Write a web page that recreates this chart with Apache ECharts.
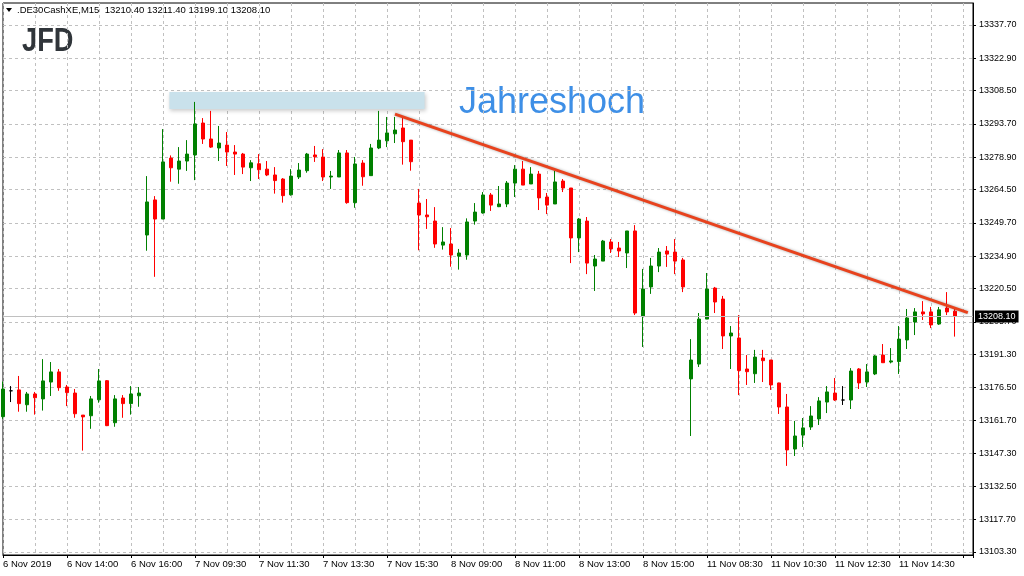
<!DOCTYPE html>
<html><head><meta charset="utf-8">
<script src="https://cdn.jsdelivr.net/npm/echarts@6/dist/echarts.min.js"></script>
<style>html,body{margin:0;padding:0;background:#fff}#c{width:1024px;height:576px}</style>
</head><body><div id="c"></div>
<script>
// ---- data (DE30 cash, M15) ----
const opens = [13163.5,13175.0,13175.4,13168.8,13173.6,13171.4,13178.9,13183.4,13176.7,13174.0,
13164.2,13163.9,13171.0,13179.5,13160.8,13171.8,13169.3,13172.8,13244.3,13259.9,
13251.4,13278.5,13273.6,13277.2,13279.9,13294.1,13287.0,13283.0,13284.3,13281.2,
13280.3,13274.2,13276.0,13273.6,13271.0,13269.2,13262.2,13270.1,13272.9,13279.9,
13279.0,13270.1,13270.1,13280.8,13258.7,13276.3,13270.7,13283.0,13286.2,13289.3,
13291.9,13286.5,13258.5,13253.2,13250.5,13239.8,13240.3,13234.9,13235.4,13250.5,
13254.1,13262.1,13256.9,13258.1,13267.4,13273.6,13267.0,13271.4,13261.2,13258.1,
13268.3,13265.2,13243.0,13250.5,13230.5,13232.7,13241.2,13238.5,13236.3,13246.1,
13208.3,13221.2,13230.5,13237.2,13236.7,13233.2,13180.3,13186.9,13206.9,13220.7,
13215.8,13199.4,13198.5,13184.7,13182.6,13189.6,13188.7,13178.5,13167.8,13149.1,
13155.3,13158.9,13162.5,13170.0,13174.0,13170.9,13170.9,13184.7,13178.9,13182.5,
13190.9,13187.8,13188.0,13197.6,13205.6,13210.1,13210.1,13204.7,13211.8,13210.4];
const highs = [13179.1,13177.1,13181.6,13174.5,13174.5,13189.1,13187.8,13184.7,13177.6,13175.8,
13164.2,13172.7,13184.7,13179.8,13173.1,13173.1,13177.1,13176.7,13270.5,13261.6,
13291.4,13279.7,13283.4,13286.5,13303.5,13296.3,13299.5,13292.8,13290.1,13284.3,
13280.8,13277.6,13280.3,13277.2,13274.5,13269.6,13273.6,13276.3,13280.8,13283.9,
13282.5,13272.8,13282.1,13282.1,13279.0,13277.6,13284.8,13299.5,13296.8,13296.8,
13296.3,13286.5,13264.8,13260.3,13256.7,13247.8,13247.4,13238.1,13251.7,13258.5,
13263.4,13263.0,13266.1,13268.3,13275.4,13277.2,13274.5,13272.8,13263.0,13272.8,
13269.2,13265.2,13251.8,13252.3,13235.4,13242.1,13242.5,13241.2,13246.1,13248.7,
13229.2,13234.1,13238.5,13239.4,13242.5,13234.1,13198.0,13209.6,13227.4,13221.2,
13217.2,13203.8,13208.7,13190.9,13193.2,13193.2,13188.7,13178.6,13173.6,13161.6,
13162.9,13168.2,13172.2,13177.1,13180.7,13177.1,13185.1,13185.1,13186.9,13190.9,
13195.8,13194.0,13203.8,13211.4,13211.8,13214.9,13212.3,13212.3,13218.9,13211.4];
const lows = [13162.5,13170.0,13165.7,13165.7,13164.4,13166.2,13172.7,13175.0,13168.2,13163.0,
13148.4,13158.1,13169.7,13159.3,13159.0,13163.0,13164.4,13167.9,13237.3,13225.7,
13251.4,13268.0,13267.1,13272.8,13268.7,13284.8,13283.0,13277.2,13275.0,13271.0,
13271.4,13268.3,13269.2,13270.5,13262.7,13258.7,13261.8,13269.2,13272.0,13276.8,
13268.3,13264.8,13270.1,13258.2,13256.4,13266.2,13270.7,13282.5,13283.4,13285.2,
13275.6,13272.9,13237.5,13247.0,13238.6,13237.8,13230.2,13228.9,13233.3,13248.9,
13253.8,13255.0,13256.7,13256.7,13261.2,13266.5,13267.0,13255.4,13253.6,13258.1,
13263.4,13231.8,13236.7,13226.9,13219.4,13232.7,13236.3,13234.5,13229.6,13208.7,
13194.5,13218.1,13227.8,13230.1,13226.9,13218.9,13154.9,13185.6,13206.9,13209.6,
13193.6,13184.7,13173.1,13177.6,13178.5,13178.9,13175.4,13164.7,13141.6,13146.0,
13150.0,13157.6,13159.8,13165.1,13170.5,13168.7,13166.9,13175.8,13176.7,13182.0,
13187.4,13187.2,13182.5,13193.6,13199.8,13206.5,13202.9,13204.3,13208.7,13199.1];
const closes = [13175.8,13175.0,13169.3,13173.6,13171.9,13179.4,13183.4,13176.4,13174.2,13164.8,
13163.4,13171.4,13179.4,13159.5,13171.4,13169.3,13173.6,13174.0,13259.0,13251.4,
13276.8,13274.2,13277.2,13280.3,13293.7,13287.0,13283.4,13285.2,13281.2,13280.3,
13274.5,13276.4,13273.3,13271.0,13268.5,13261.8,13270.5,13273.2,13280.3,13279.1,
13270.1,13270.5,13280.8,13258.7,13275.9,13270.2,13283.0,13286.5,13289.7,13291.0,
13285.8,13276.9,13253.2,13252.4,13240.3,13241.2,13235.4,13236.3,13250.1,13254.5,
13262.1,13257.6,13258.1,13267.4,13273.6,13266.5,13271.4,13260.8,13257.6,13267.9,
13265.2,13243.0,13251.4,13231.8,13233.6,13241.6,13238.1,13237.2,13246.1,13209.6,
13220.3,13230.5,13236.7,13235.8,13232.7,13221.2,13188.7,13206.9,13220.3,13214.5,
13199.4,13200.7,13184.0,13183.5,13190.0,13188.4,13177.6,13167.8,13148.7,13154.9,
13158.5,13163.8,13170.5,13174.5,13170.9,13170.9,13183.8,13178.5,13183.4,13190.5,
13187.5,13188.3,13198.0,13207.4,13210.1,13209.2,13204.3,13211.0,13210.1,13208.1];
const timeLabels = ['6 Nov 2019','6 Nov 14:00','6 Nov 16:00','7 Nov 09:30','7 Nov 11:30','7 Nov 13:30',
'7 Nov 15:30','8 Nov 09:00','8 Nov 11:00','8 Nov 13:00','8 Nov 15:00','11 Nov 08:30','11 Nov 10:30',
'11 Nov 12:30','11 Nov 14:30'];
const priceTicks = [13337.70,13322.90,13308.50,13293.70,13278.90,13264.50,13249.70,13234.90,13220.50,
13205.70,13191.30,13176.50,13161.70,13147.30,13132.50,13117.70,13103.30];
const lastPrice = 13208.10;
const headerText = '.DE30CashXE,M15  13210.40 13211.40 13199.10 13208.10';
const trendStart = [49.0, 13298.1];
const trendEnd = [120.6, 13209.8];
const zoneStart = [20.8, 13307.9];
const zoneEnd = [52.7, 13300.3];

// ---- chart ----
const FONT = '"Liberation Sans", Arial, sans-serif';
const XMAX = 121.25, YMIN = 13101.97, YMAX = 13347.49;
const chart = echarts.init(document.getElementById('c'), null, {renderer:'canvas', width:1024, height:576});
const candleData = opens.map((o, i) => {
  const item = {value: [i, o, closes[i], lows[i], highs[i]]};
  if (o === closes[i]) item.itemStyle = {color:'#000', color0:'#000', borderColor:'#000', borderColor0:'#000'};
  return item;
});
const dash = {color:'#c0c0c0', type:[3,3], width:1};
chart.setOption({
  animation: false,
  backgroundColor: '#fff',
  grid: {left:3, right:51, top:3, bottom:21, show:true, borderColor:'#000', borderWidth:1, backgroundColor:'#fff'},
  xAxis: [
    {type:'value', min:0, max:XMAX, interval:4, axisLine:{show:false}, axisTick:{show:false},
     axisLabel:{show:false}, splitLine:{show:true, lineStyle:dash}},
    {type:'value', min:0, max:XMAX, interval:8, position:'bottom',
     axisLine:{show:true, onZero:false, lineStyle:{color:'#000', width:1}},
     axisTick:{show:true, length:3, lineStyle:{color:'#000'}},
     splitLine:{show:false},
     axisLabel:{show:true, align:'left', margin:4, fontSize:9.5, color:'#000', fontFamily:FONT,
       formatter: v => (v % 8 === 0 && timeLabels[v / 8]) ? timeLabels[v / 8] : ''}}
  ],
  yAxis: {type:'value', position:'right', min:YMIN, max:YMAX, scale:true,
    axisLine:{show:true, onZero:false, lineStyle:{color:'#000', width:1}},
    axisTick:{show:true, length:3, customValues:priceTicks, lineStyle:{color:'#000'}},
    axisLabel:{show:true, customValues:priceTicks, formatter: v => v.toFixed(2), margin:6,
      fontSize:9, color:'#000', fontFamily:FONT},
    splitLine:{show:true, lineStyle:dash}},
  series: [{
    type:'candlestick', xAxisIndex:0, yAxisIndex:0, data:candleData, barWidth:4,
    itemStyle:{color:'#008000', color0:'#ff0000', borderColor:'#008000', borderColor0:'#ff0000',
      borderColorDoji:'#000', borderWidth:1},
    markArea:{silent:true,
      itemStyle:{color:'#c9e1eb', shadowBlur:4, shadowColor:'rgba(0,0,0,0.2)', shadowOffsetX:1, shadowOffsetY:2},
      data:[[{coord:zoneStart}, {coord:zoneEnd}]]},
    markLine:{silent:true, symbol:'none', animation:false, data:[
      {yAxis:lastPrice, lineStyle:{color:'#c0c0c0', type:'solid', width:1},
       label:{show:true, position:'end', formatter:lastPrice.toFixed(2), backgroundColor:'#000', color:'#fff',
         padding:[2,3,1,3], fontSize:9, fontFamily:FONT, distance:2}},
      [{coord:trendStart, lineStyle:{color:'#e8421d', width:3, type:'solid', shadowBlur:3, shadowColor:'rgba(0,0,0,0.35)'},
        label:{show:false}}, {coord:trendEnd}]
    ]}
  }],
  graphic: [
    {type:'polygon', shape:{points:[[6,8],[12,8],[9,12]]}, style:{fill:'#000'}},
    {type:'text', x:17, y:5, style:{text:headerText, fontSize:9.5, fontFamily:FONT, fill:'#000', verticalAlign:'top'}},
    {type:'text', x:22, y:25, scaleX:0.8, style:{text:'JFD', fontSize:34, fontWeight:'bold', fontFamily:FONT, fill:'#30353a', verticalAlign:'top'}},
    {type:'text', x:459, y:85, style:{text:'Jahreshoch', fontSize:36, fontFamily:FONT, fill:'#3e8fe6', verticalAlign:'top'}}
  ]
});
</script></body></html>
